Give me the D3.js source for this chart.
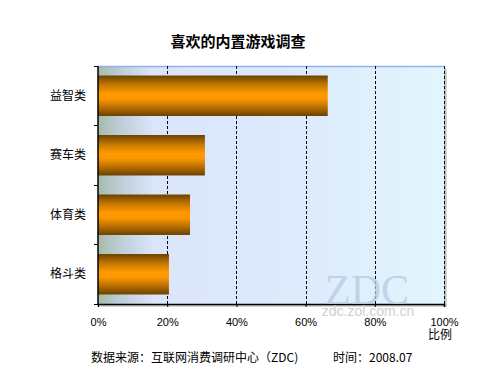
<!DOCTYPE html>
<html>
<head>
<meta charset="utf-8">
<script src="https://cdn.jsdelivr.net/npm/d3@7"></script>
<style>
  body { margin: 0; background: #fff; }
  svg text { font-family: "Liberation Sans", "Noto Sans CJK SC", sans-serif; }
</style>
</head>
<body>
<svg id="chart" width="500" height="375"></svg>
<script>
// data
const categories = ["益智类", "赛车类", "体育类", "格斗类"];
const values = [66.4, 30.9, 26.6, 20.5];
const xTicks = [0, 20, 40, 60, 80, 100];

const svg = d3.select("#chart");
const plotLeft = 98, plotRight = 444, plotTop = 66, plotBottom = 304;

const x = d3.scaleLinear().domain([0, 100]).range([plotLeft, plotRight]);
const y = d3.scaleBand().domain(categories).range([plotTop, plotBottom]).paddingInner(0.32).paddingOuter(0.16);

const defs = svg.append("defs");

// plot background gradient
let bg = defs.append("linearGradient").attr("id", "bg").attr("x1", 0).attr("x2", 1).attr("y1", 0).attr("y2", 0);
bg.append("stop").attr("offset", "0%").attr("stop-color", "#a6bba9");
bg.append("stop").attr("offset", "6%").attr("stop-color", "#bcccd4");
bg.append("stop").attr("offset", "16%").attr("stop-color", "#dbe5fb");
bg.append("stop").attr("offset", "60%").attr("stop-color", "#ddebfc");
bg.append("stop").attr("offset", "100%").attr("stop-color", "#e2f5fd");

// bar gradient
let bar = defs.append("linearGradient").attr("id", "bar").attr("x1", 0).attr("x2", 0).attr("y1", 0).attr("y2", 1);
bar.append("stop").attr("offset", "0%").attr("stop-color", "#6a4200");
bar.append("stop").attr("offset", "22%").attr("stop-color", "#c27500");
bar.append("stop").attr("offset", "45%").attr("stop-color", "#ff9b00");
bar.append("stop").attr("offset", "58%").attr("stop-color", "#fb9700");
bar.append("stop").attr("offset", "80%").attr("stop-color", "#b56c00");
bar.append("stop").attr("offset", "100%").attr("stop-color", "#6a4200");

// title
svg.append("text")
  .attr("x", 238).attr("y", 47)
  .attr("text-anchor", "middle")
  .style("font-size", "15px").style("font-weight", "bold")
  .style("font-family", "'Noto Sans CJK SC', sans-serif")
  .text("喜欢的内置游戏调查");

// shadow
svg.append("rect")
  .attr("x", plotLeft + 3).attr("y", plotTop + 3)
  .attr("width", plotRight - plotLeft).attr("height", plotBottom - plotTop)
  .attr("fill", "#d4d4d4");
svg.append("rect")
  .attr("x", plotLeft + 1.5).attr("y", plotTop + 1.5)
  .attr("width", plotRight - plotLeft).attr("height", plotBottom - plotTop)
  .attr("fill", "#b4b4b4");

// plot background
svg.append("rect")
  .attr("x", plotLeft).attr("y", plotTop)
  .attr("width", plotRight - plotLeft).attr("height", plotBottom - plotTop)
  .attr("fill", "url(#bg)");

svg.append("line")
  .attr("x1", plotLeft).attr("x2", plotRight).attr("y1", plotTop + 0.5).attr("y2", plotTop + 0.5)
  .attr("stroke", "#93b1ec").attr("stroke-width", 1.5);

// grid lines
svg.append("g")
  .selectAll("line")
  .data(xTicks.filter(d => d > 0))
  .join("line")
  .attr("x1", d => Math.round(x(d)) + 0.5).attr("x2", d => Math.round(x(d)) + 0.5)
  .attr("y1", plotTop).attr("y2", plotBottom)
  .attr("stroke", "#000").attr("stroke-dasharray", "3,2");

// bars
svg.append("g")
  .selectAll("rect")
  .data(values)
  .join("rect")
  .attr("x", plotLeft)
  .attr("y", (d, i) => y(categories[i]))
  .attr("width", d => x(d) - plotLeft)
  .attr("height", y.bandwidth())
  .attr("fill", "url(#bar)");

// axes
const xAxis = svg.append("g")
  .attr("transform", `translate(0,${plotBottom})`)
  .call(d3.axisBottom(x).tickValues(xTicks).tickFormat(d => d + "%").tickSize(3).tickPadding(11));
xAxis.select(".domain").attr("stroke-width", 1.5);
xAxis.selectAll("text").style("font-size", "11px").attr("fill", "#000");

const bandEdges = [plotTop, ...categories.map(c => y(c) - y.step() * y.paddingInner() / 2).slice(1), plotBottom];
const yAxis = svg.append("g");
yAxis.append("line")
  .attr("x1", plotLeft).attr("x2", plotLeft).attr("y1", plotTop).attr("y2", plotBottom)
  .attr("stroke", "#000").attr("stroke-width", 1.5);
yAxis.selectAll(".tk")
  .data(bandEdges)
  .join("line")
  .attr("class", "tk")
  .attr("x1", plotLeft - 4).attr("x2", plotLeft)
  .attr("y1", d => Math.round(d) + 0.5).attr("y2", d => Math.round(d) + 0.5)
  .attr("stroke", "#000");
yAxis.selectAll("text")
  .data(categories)
  .join("text")
  .attr("x", 86)
  .attr("y", d => y(d) + y.bandwidth() / 2 + 4)
  .attr("text-anchor", "end")
  .style("font-size", "12px")
  .style("font-family", "'Noto Sans CJK SC', sans-serif")
  .text(d => d);

// watermark
svg.append("text")
  .attr("x", 367).attr("y", 304)
  .attr("text-anchor", "middle")
  .style("font-family", "'Liberation Serif', serif")
  .style("font-size", "42px")
  .attr("fill", "#b9cbe3").attr("fill-opacity", 0.8)
  .text("ZDC");
svg.append("text")
  .attr("x", 368).attr("y", 316)
  .attr("text-anchor", "middle")
  .style("font-size", "14px")
  .attr("fill", "#cfcfcf")
  .text("zdc.zol.com.cn");

// axis title
svg.append("text")
  .attr("x", 452).attr("y", 339)
  .attr("text-anchor", "end")
  .style("font-size", "12px")
  .style("font-family", "'Noto Sans CJK SC', sans-serif")
  .text("比例");

// footer
svg.append("text")
  .attr("x", 91).attr("y", 362)
  .style("font-size", "12px")
  .style("font-family", "'Noto Sans CJK SC', sans-serif")
  .text("数据来源：互联网消费调研中心（ZDC)");
svg.append("text")
  .attr("x", 333).attr("y", 362)
  .style("font-size", "12px")
  .style("font-family", "'Noto Sans CJK SC', sans-serif")
  .text("时间：2008.07");
</script>
</body>
</html>
